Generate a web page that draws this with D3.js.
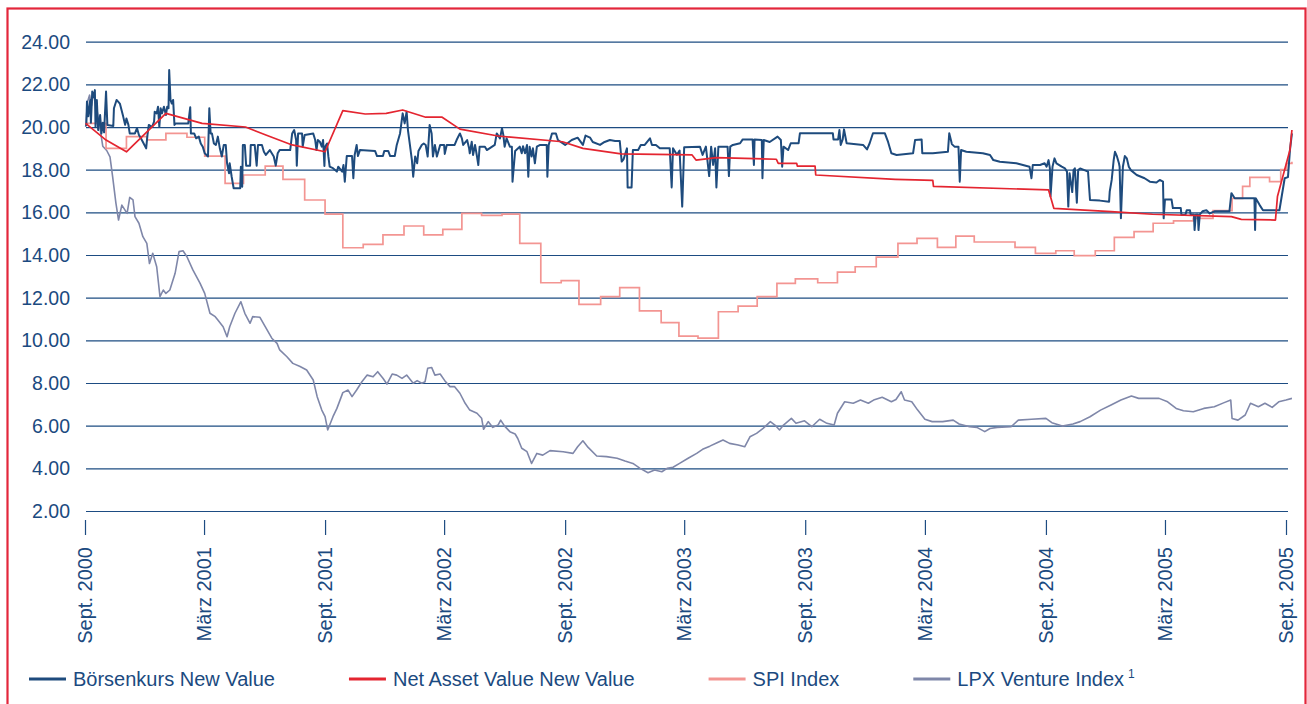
<!DOCTYPE html>
<html>
<head>
<meta charset="utf-8">
<script src="https://cdn.jsdelivr.net/npm/d3@7"></script>
<style>
  body { margin: 0; background: #fff; }
  svg { display: block; font-family: "Liberation Sans", Arial, Helvetica, sans-serif; }
  .axis text { fill: #1b4a80; }
  .axis line { stroke: #1d4c82; stroke-width: 1.2; }
  .legend text { fill: #1b4a80; font-size: 20px; }
</style>
</head>
<body>
<svg width="1307" height="704"></svg>
<script>
// values

const yTicks = [2, 4, 6, 8, 10, 12, 14, 16, 18, 20, 22, 24];

const tickDates = ["2000-09-01", "2001-03-01", "2001-09-01", "2002-03-01", "2002-09-01", "2003-03-01",
  "2003-09-01", "2004-03-01", "2004-09-01", "2005-03-01", "2005-09-01"];
const tickLabels = ["Sept. 2000", "März 2001", "Sept. 2001", "März 2002", "Sept. 2002", "März 2003",
  "Sept. 2003", "März 2004", "Sept. 2004", "März 2005", "Sept. 2005"];

const seriesNames = ["Börsenkurs New Value", "Net Asset Value New Value", "SPI Index", "LPX Venture Index"];
const seriesColors = ["#1e4b7d", "#e42530", "#f39592", "#7f87a9"];

const boersenkurs = [
["2000-09-03",20.05],["2000-09-04",21.2],["2000-09-06",20.5],["2000-09-09",21.27],["2000-09-10",20.2],["2000-09-12",21.66],
["2000-09-14",21.4],["2000-09-16",21.73],["2000-09-17",20.0],["2000-09-19",21.27],["2000-09-21",19.86],["2000-09-24",20.56],
["2000-09-26",19.7],["2000-09-28",20.2],["2000-09-30",19.75],["2000-10-03",21.66],["2000-10-05",20.1],["2000-10-14",20.05],
["2000-10-15",20.88],["2000-10-19",21.27],["2000-10-24",21.1],["2000-10-29",20.5],["2000-11-01",20.1],["2000-11-03",20.4],
["2000-11-06",20.1],["2000-11-08",19.7],["2000-11-16",19.7],["2000-11-19",19.95],["2000-11-22",19.63],["2000-11-25",19.47],
["2000-11-28",19.3],["2000-12-03",19.0],["2000-12-05",19.63],["2000-12-07",20.1],["2000-12-12",20.0],["2000-12-15",20.25],
["2000-12-16",20.72],["2000-12-19",20.64],["2000-12-21",20.95],["2000-12-23",20.0],["2000-12-25",20.88],["2000-12-27",20.64],
["2000-12-30",20.95],["2001-01-02",20.56],["2001-01-04",20.95],["2001-01-06",20.88],["2001-01-07",22.67],["2001-01-09",21.27],
["2001-01-11",21.1],["2001-01-13",21.27],["2001-01-15",20.1],["2001-01-17",20.17],["2001-02-05",20.17],["2001-02-08",20.93],
["2001-02-09",19.7],["2001-02-14",19.7],["2001-02-17",19.47],["2001-02-21",19.55],["2001-02-24",19.23],["2001-02-27",19.08],
["2001-03-02",18.77],["2001-03-07",18.62],["2001-03-09",20.88],["2001-03-11",19.7],["2001-03-13",19.7],["2001-03-16",19.23],
["2001-03-19",19.16],["2001-03-22",19.55],["2001-03-25",19.0],["2001-03-28",18.62],["2001-03-31",19.16],["2001-04-03",19.16],
["2001-04-05",18.3],["2001-04-08",17.83],["2001-04-09",18.3],["2001-04-12",17.67],["2001-04-15",17.13],["2001-04-25",17.13],
["2001-04-26",18.14],["2001-04-28",17.2],["2001-04-29",19.16],["2001-05-02",19.16],["2001-05-04",18.19],["2001-05-10",18.19],
["2001-05-11",19.16],["2001-05-17",19.16],["2001-05-20",18.19],["2001-05-22",19.16],["2001-05-28",19.16],["2001-05-31",18.84],
["2001-06-03",18.69],["2001-06-09",18.92],["2001-06-15",18.62],["2001-06-18",18.19],["2001-06-21",18.77],["2001-06-24",18.92],
["2001-07-10",18.92],["2001-07-13",19.7],["2001-07-16",19.86],["2001-07-19",19.39],["2001-07-20",18.19],["2001-07-22",19.7],
["2001-07-28",19.7],["2001-07-29",19.08],["2001-08-01",19.63],["2001-08-14",19.7],["2001-08-17",19.39],["2001-08-19",18.92],
["2001-08-21",19.39],["2001-08-24",19.31],["2001-08-27",19.08],["2001-08-29",19.39],["2001-08-31",18.17],["2001-09-01",19.08],
["2001-09-04",19.23],["2001-09-06",18.62],["2001-09-08",18.14],["2001-09-13",18.07],["2001-09-19",17.91],["2001-09-21",18.14],
["2001-09-27",17.91],["2001-09-29",18.22],["2001-10-01",17.44],["2001-10-04",18.64],["2001-10-12",18.64],["2001-10-14",17.6],
["2001-10-16",18.69],["2001-10-19",19.16],["2001-10-21",18.64],["2001-10-24",18.92],["2001-11-16",18.88],["2001-11-19",18.64],
["2001-11-28",18.64],["2001-11-30",18.88],["2001-12-06",18.88],["2001-12-09",18.64],["2001-12-16",18.64],["2001-12-19",19.16],
["2001-12-24",19.7],["2001-12-26",20.17],["2001-12-28",20.64],["2001-12-31",20.17],["2002-01-03",20.72],["2002-01-05",19.86],
["2002-01-08",19.16],["2002-01-11",18.45],["2002-01-13",17.67],["2002-01-16",18.62],["2002-01-19",18.3],["2002-01-21",18.88],
["2002-01-26",19.16],["2002-01-29",19.23],["2002-02-01",19.16],["2002-02-04",18.62],["2002-02-07",20.1],["2002-02-10",19.7],
["2002-02-12",18.62],["2002-02-15",19.16],["2002-02-18",18.62],["2002-02-23",19.16],["2002-03-01",19.16],["2002-03-02",18.74],
["2002-03-05",19.16],["2002-03-17",19.16],["2002-03-20",19.39],["2002-03-25",19.7],["2002-03-28",19.47],["2002-03-30",19.16],
["2002-04-05",19.39],["2002-04-08",19.0],["2002-04-09",18.77],["2002-04-12",19.31],["2002-04-14",18.69],["2002-04-17",19.16],
["2002-04-20",18.62],["2002-04-22",18.22],["2002-04-24",19.08],["2002-05-02",19.08],["2002-05-05",18.92],["2002-05-17",19.16],
["2002-05-20",19.7],["2002-05-25",19.47],["2002-05-28",19.94],["2002-05-30",19.63],["2002-06-01",19.08],["2002-06-04",19.47],
["2002-06-09",19.08],["2002-06-12",19.08],["2002-06-13",17.44],["2002-06-17",18.88],["2002-06-24",19.08],["2002-06-27",18.77],
["2002-06-29",19.1],["2002-07-02",18.77],["2002-07-05",19.16],["2002-07-07",17.67],["2002-07-09",19.08],["2002-07-12",18.62],
["2002-07-14",19.0],["2002-07-17",18.3],["2002-07-20",19.08],["2002-07-25",19.16],["2002-08-04",19.16],["2002-08-05",17.67],
["2002-08-07",19.16],["2002-08-12",19.7],["2002-08-18",19.7],["2002-08-21",19.39],["2002-09-01",19.16],["2002-09-11",19.39],
["2002-09-20",19.5],["2002-09-28",19.16],["2002-10-02",19.6],["2002-10-09",19.5],["2002-10-13",19.3],["2002-10-24",19.16],
["2002-10-31",19.3],["2002-11-08",19.39],["2002-11-16",19.35],["2002-11-23",19.35],["2002-11-26",18.38],["2002-11-29",18.5],
["2002-12-04",19.0],["2002-12-05",17.17],["2002-12-11",17.17],["2002-12-13",18.92],["2002-12-21",18.92],["2002-12-25",19.16],
["2002-12-31",19.16],["2003-01-08",19.47],["2003-01-11",19.16],["2003-01-17",19.16],["2003-01-23",19.0],["2003-02-07",19.0],
["2003-02-10",17.17],["2003-02-12",19.0],["2003-02-18",18.7],["2003-02-22",18.9],["2003-02-26",16.27],["2003-03-01",19.05],
["2003-03-25",19.08],["2003-03-29",18.69],["2003-04-03",19.08],["2003-04-08",17.7],["2003-04-11",19.08],["2003-04-14",18.22],
["2003-04-17",19.0],["2003-04-19",17.17],["2003-04-22",19.08],["2003-05-06",19.08],["2003-05-08",17.7],["2003-05-10",19.08],
["2003-05-14",19.16],["2003-05-25",19.24],["2003-05-29",19.42],["2003-06-13",19.42],["2003-06-15",18.22],["2003-06-16",19.42],
["2003-06-27",19.39],["2003-06-28",17.6],["2003-06-30",19.39],["2003-07-09",19.3],["2003-07-21",19.55],["2003-07-26",19.39],
["2003-07-28",18.14],["2003-07-30",19.08],["2003-08-06",18.92],["2003-08-10",19.24],["2003-08-22",19.24],["2003-08-24",19.71],
["2003-10-13",19.71],["2003-10-14",19.42],["2003-10-21",19.42],["2003-10-23",19.86],["2003-10-25",19.16],["2003-10-28",19.42],
["2003-10-30",19.89],["2003-11-03",19.24],["2003-11-28",19.16],["2003-12-04",18.95],["2003-12-08",19.24],["2003-12-13",19.71],
["2003-12-31",19.71],["2004-01-05",19.3],["2004-01-10",18.77],["2004-01-18",18.69],["2004-02-12",18.77],["2004-02-15",19.39],
["2004-02-25",19.42],["2004-02-26",18.77],["2004-03-13",18.77],["2004-04-05",18.84],["2004-04-07",19.71],["2004-04-11",19.2],
["2004-04-15",19.08],["2004-04-21",19.08],["2004-04-23",17.44],["2004-04-25",18.92],["2004-05-03",18.84],["2004-05-28",18.77],
["2004-06-08",18.69],["2004-06-13",18.45],["2004-06-23",18.37],["2004-07-18",18.3],["2004-08-07",18.14],["2004-08-10",17.6],
["2004-08-12",18.22],["2004-08-23",18.22],["2004-08-30",18.3],["2004-09-02",18.14],["2004-09-05",18.45],["2004-09-07",18.06],
["2004-09-08",16.75],["2004-09-11",18.14],["2004-09-14",18.53],["2004-09-17",18.3],["2004-09-25",18.14],["2004-09-30",18.06],
["2004-10-03",17.91],["2004-10-05",16.27],["2004-10-07",17.83],["2004-10-11",16.95],["2004-10-13",17.98],["2004-10-15",18.06],
["2004-10-18",16.45],["2004-10-20",17.98],["2004-10-23",18.06],["2004-11-04",17.91],["2004-11-07",16.58],["2004-11-22",16.55],
["2004-12-06",16.5],["2004-12-07",16.97],["2004-12-10",17.52],["2004-12-13",18.45],["2004-12-15",18.84],["2004-12-18",18.62],
["2004-12-21",18.3],["2004-12-22",18.14],["2004-12-24",15.72],["2004-12-27",18.14],["2004-12-30",18.64],["2005-01-02",18.53],
["2005-01-05",18.14],["2005-01-08",17.98],["2005-01-17",17.75],["2005-01-29",17.6],["2005-02-06",17.44],["2005-02-16",17.4],
["2005-02-21",17.52],["2005-02-26",17.44],["2005-02-27",15.72],["2005-03-01",16.6],["2005-03-11",16.6],["2005-03-13",16.2],
["2005-03-25",16.2],["2005-03-26",15.88],["2005-04-01",15.88],["2005-04-03",16.1],["2005-04-08",16.1],["2005-04-09",15.9],
["2005-04-14",15.9],["2005-04-15",15.17],["2005-04-17",15.9],["2005-04-20",15.9],["2005-04-21",15.17],["2005-04-23",15.9],
["2005-04-27",16.05],["2005-05-03",16.1],["2005-05-08",15.95],["2005-05-16",16.05],["2005-06-07",16.05],["2005-06-10",16.9],
["2005-06-15",16.66],["2005-07-15",16.66],["2005-07-16",15.17],["2005-07-17",16.66],["2005-07-23",16.34],["2005-07-28",16.1],
["2005-08-22",16.1],["2005-08-25",16.66],["2005-08-30",17.6],["2005-09-04",17.65],["2005-09-07",18.92],["2005-09-10",19.7]
];

const netAssetValue = [
["2000-09-02",20.17],["2000-10-03",19.39],["2000-11-03",18.84],["2001-01-02",20.64],["2001-02-26",20.17],["2001-05-03",20.0],
["2001-06-03",19.63],["2001-07-13",19.16],["2001-09-01",18.84],["2001-09-28",20.77],["2001-11-01",20.61],["2001-12-03",20.64],
["2001-12-28",20.8],["2002-02-01",20.46],["2002-02-26",20.46],["2002-03-25",19.9],["2002-05-22",19.58],["2002-08-28",19.31],
["2002-09-28",19.0],["2002-11-25",18.74],["2003-03-13",18.69],["2003-03-19",18.45],["2003-04-19",18.57],["2003-07-19",18.49],
["2003-07-22",18.3],["2003-08-19",18.3],["2003-08-20",18.17],["2003-09-16",18.17],["2003-09-17",17.75],["2004-01-16",17.55],
["2004-02-15",17.52],["2004-03-13",17.5],["2004-03-14",17.22],["2004-09-05",17.05],["2004-09-13",16.19],["2004-12-09",16.03],
["2005-02-10",15.91],["2005-06-10",15.8],["2005-06-25",15.67],["2005-08-16",15.64],["2005-08-19",16.74],["2005-09-07",18.92],
["2005-09-10",19.86]
];

const spiIndex = [
["2000-09-01",20.17],["2000-10-03",19.0],["2000-11-03",19.55],["2000-12-04",19.4],["2001-01-02",19.7],["2001-02-03",19.52],
["2001-03-02",18.64],["2001-04-02",17.36],["2001-04-30",17.75],["2001-06-02",18.17],["2001-06-29",17.55],["2001-08-01",16.58],
["2001-09-01",15.92],["2001-09-28",14.34],["2001-10-29",14.5],["2001-11-28",14.94],["2001-12-30",15.36],["2002-01-29",14.94],
["2002-02-27",15.2],["2002-03-28",15.95],["2002-04-27",15.86],["2002-05-28",15.92],["2002-06-24",14.55],["2002-07-26",12.7],
["2002-08-26",12.8],["2002-09-22",11.69],["2002-10-25",12.05],["2002-11-23",12.47],["2002-12-23",11.38],["2003-01-25",10.83],
["2003-02-21",10.2],["2003-03-22",10.1],["2003-04-22",11.34],["2003-05-22",11.6],["2003-06-20",12.05],["2003-07-20",12.67],
["2003-08-17",12.88],["2003-09-20",12.7],["2003-10-20",13.2],["2003-11-16",13.45],["2003-12-18",13.9],["2004-01-20",14.55],
["2004-02-18",14.78],["2004-03-20",14.36],["2004-04-17",14.89],["2004-05-15",14.61],["2004-07-16",14.36],["2004-08-16",14.08],
["2004-09-16",14.2],["2004-10-14",13.97],["2004-11-15",14.2],["2004-12-14",14.83],["2005-01-13",15.1],["2005-02-11",15.49],
["2005-03-14",15.6],["2005-04-13",15.72],["2005-05-13",16.08],["2005-06-11",16.66],["2005-06-27",17.22],["2005-07-08",17.64],
["2005-08-07",17.44],["2005-08-24",18.0],["2005-09-02",18.3],["2005-09-10",18.37]
];

const lpxVenture = [
["2000-09-02",20.0],["2000-09-05",21.2],["2000-09-08",21.5],["2000-09-11",21.0],["2000-09-14",21.6],["2000-09-19",20.8],
["2000-09-23",20.1],["2000-09-28",19.1],["2000-10-04",18.9],["2000-10-09",18.6],["2000-10-13",17.67],["2000-10-18",16.43],
["2000-10-22",15.64],["2000-10-27",16.34],["2000-11-04",15.95],["2000-11-08",16.7],["2000-11-13",16.58],["2000-11-16",15.8],
["2000-11-22",15.49],["2000-11-28",14.86],["2000-12-04",14.55],["2000-12-08",13.6],["2000-12-13",14.08],["2000-12-19",13.45],
["2000-12-24",12.05],["2000-12-29",12.36],["2001-01-02",12.2],["2001-01-08",12.36],["2001-01-16",13.14],["2001-01-22",14.16],
["2001-01-28",14.2],["2001-02-03",13.92],["2001-02-12",13.3],["2001-02-23",12.67],["2001-03-02",12.2],["2001-03-10",11.27],
["2001-03-18",11.11],["2001-03-22",10.95],["2001-03-30",10.64],["2001-04-05",10.17],["2001-04-09",10.64],["2001-04-17",11.27],
["2001-04-26",11.81],["2001-05-02",11.27],["2001-05-10",10.8],["2001-05-14",11.11],["2001-05-25",11.08],["2001-06-02",10.64],
["2001-06-12",10.1],["2001-06-20",9.86],["2001-06-24",9.55],["2001-07-05",9.23],["2001-07-14",8.92],["2001-07-25",8.77],
["2001-08-04",8.61],["2001-08-14",8.14],["2001-08-20",7.36],["2001-08-27",6.73],["2001-09-01",6.42],["2001-09-05",5.8],
["2001-09-13",6.42],["2001-09-19",6.81],["2001-09-28",7.55],["2001-10-06",7.67],["2001-10-12",7.36],["2001-10-19",7.67],
["2001-10-27",8.06],["2001-11-04",8.37],["2001-11-13",8.29],["2001-11-20",8.53],["2001-11-28",8.22],["2001-12-04",7.95],
["2001-12-12",8.42],["2001-12-19",8.37],["2001-12-27",8.22],["2002-01-03",8.37],["2002-01-13",7.99],["2002-01-19",8.11],
["2002-01-26",7.99],["2002-01-31",8.06],["2002-02-04",8.69],["2002-02-10",8.73],["2002-02-15",8.37],["2002-02-23",8.42],
["2002-03-02",8.11],["2002-03-10",7.83],["2002-03-17",7.83],["2002-03-25",7.52],["2002-04-02",7.05],["2002-04-09",6.73],
["2002-04-20",6.58],["2002-04-27",6.35],["2002-04-30",5.83],["2002-05-07",6.19],["2002-05-14",5.92],["2002-05-22",6.03],
["2002-05-26",6.26],["2002-06-01",5.98],["2002-06-09",5.72],["2002-06-17",5.61],["2002-06-21",5.4],["2002-06-27",4.94],
["2002-07-05",4.78],["2002-07-12",4.23],["2002-07-20",4.7],["2002-07-29",4.62],["2002-08-09",4.83],["2002-08-29",4.78],
["2002-09-13",4.7],["2002-09-20",5.01],["2002-09-28",5.29],["2002-10-06",4.98],["2002-10-19",4.58],["2002-11-03",4.55],
["2002-11-19",4.47],["2002-12-01",4.34],["2002-12-13",4.23],["2002-12-24",4.0],["2003-01-05",3.79],["2003-01-15",3.92],
["2003-01-26",3.84],["2003-02-03",4.0],["2003-02-12",4.05],["2003-02-22",4.23],["2003-03-07",4.47],["2003-03-20",4.7],
["2003-03-29",4.89],["2003-04-09",5.04],["2003-04-20",5.2],["2003-04-29",5.33],["2003-05-09",5.17],["2003-05-22",5.09],
["2003-06-01",5.01],["2003-06-09",5.48],["2003-06-19",5.64],["2003-06-29",5.87],["2003-07-10",6.19],["2003-07-17",6.03],
["2003-07-24",5.8],["2003-07-30",6.03],["2003-08-11",6.34],["2003-08-18",6.11],["2003-08-31",6.23],["2003-09-11",5.95],
["2003-09-23",6.3],["2003-10-04",6.11],["2003-10-15",6.03],["2003-10-20",6.58],["2003-10-31",7.12],["2003-11-13",7.05],
["2003-11-24",7.2],["2003-12-06",7.05],["2003-12-14",7.2],["2003-12-27",7.33],["2004-01-10",7.12],["2004-01-17",7.23],
["2004-01-25",7.59],["2004-01-30",7.2],["2004-02-10",7.12],["2004-02-19",6.73],["2004-03-01",6.3],["2004-03-12",6.19],
["2004-03-28",6.19],["2004-04-13",6.26],["2004-04-22",6.08],["2004-05-08",5.95],["2004-05-19",5.92],["2004-05-31",5.72],
["2004-06-08",5.87],["2004-06-19",5.92],["2004-07-10",5.95],["2004-07-21",6.26],["2004-08-10",6.3],["2004-09-01",6.34],
["2004-09-10",6.14],["2004-09-26",5.98],["2004-10-12",6.08],["2004-10-23",6.19],["2004-11-07",6.42],["2004-11-23",6.73],
["2004-12-09",6.97],["2004-12-24",7.2],["2005-01-09",7.39],["2005-01-20",7.28],["2005-02-05",7.28],["2005-02-20",7.28],
["2005-03-05",7.12],["2005-03-18",6.81],["2005-03-29",6.7],["2005-04-13",6.65],["2005-04-29",6.81],["2005-05-15",6.89],
["2005-05-30",7.08],["2005-06-09",7.2],["2005-06-11",6.34],["2005-06-20",6.26],["2005-07-01",6.5],["2005-07-09",7.05],
["2005-07-21",6.89],["2005-07-31",7.05],["2005-08-11",6.86],["2005-08-21",7.12],["2005-09-01",7.2],["2005-09-10",7.28]
];

const parse = d3.timeParse("%Y-%m-%d");
const svg = d3.select("svg");

// frame
svg.append("rect")
  .attr("x", 7.5).attr("y", 8.5)
  .attr("width", 1298).attr("height", 740)
  .attr("fill", "none")
  .attr("stroke", "#e3263b")
  .attr("stroke-width", 2.2);

const left = 86, right = 1288;
const x = d3.scaleTime()
  .domain([parse("2000-09-01"), parse("2005-09-01")])
  .range([85, 1286]);
const y = d3.scaleLinear()
  .domain([2, 24])
  .range([511, 41.7]);

// y grid + labels
const yAxis = svg.append("g")
  .attr("class", "axis")
  .attr("transform", `translate(${left},0)`)
  .call(d3.axisLeft(y)
    .tickValues(yTicks)
    .tickSize(-(right - left))
    .tickPadding(16)
    .tickFormat(d3.format(".2f")));
yAxis.select(".domain").remove();
yAxis.selectAll("text")
  .style("font-size", "19.5px")
  .attr("dy", "0.33em");

// x ticks + rotated labels
const xAxis = svg.append("g")
  .attr("class", "axis")
  .attr("transform", "translate(0,520)")
  .call(d3.axisBottom(x)
    .tickValues(tickDates.map(parse))
    .tickSize(15)
    .tickFormat((d, i) => tickLabels[i]));
xAxis.select(".domain").remove();
xAxis.selectAll("text")
  .style("font-size", "20px")
  .attr("transform", "rotate(-90)")
  .attr("text-anchor", "end")
  .attr("x", -27)
  .attr("y", 6.5)
  .attr("dy", 0);

const line = d3.line()
  .x(d => x(parse(d[0])))
  .y(d => y(d[1]));

svg.append("path")
  .datum(lpxVenture)
  .attr("fill", "none")
  .attr("stroke", seriesColors[3])
  .attr("stroke-width", 1.6)
  .attr("stroke-linejoin", "round")
  .attr("d", line);

svg.append("path")
  .datum(spiIndex)
  .attr("fill", "none")
  .attr("stroke", seriesColors[2])
  .attr("stroke-width", 1.7)
  .attr("d", line.curve(d3.curveStepAfter));
line.curve(d3.curveLinear);

svg.append("path")
  .datum(boersenkurs)
  .attr("fill", "none")
  .attr("stroke", seriesColors[0])
  .attr("stroke-width", 2)
  .attr("stroke-linejoin", "round")
  .attr("d", line);

svg.append("path")
  .datum(netAssetValue)
  .attr("fill", "none")
  .attr("stroke", seriesColors[1])
  .attr("stroke-width", 1.7)
  .attr("stroke-linejoin", "round")
  .attr("d", line);

// legend, laid out left to right
const legend = svg.append("g").attr("class", "legend");
let lx = 29;
seriesNames.forEach((name, i) => {
  legend.append("line")
    .attr("x1", lx).attr("x2", lx + 37)
    .attr("y1", 679).attr("y2", 679)
    .attr("stroke", seriesColors[i])
    .attr("stroke-width", 3);
  const t = legend.append("text")
    .attr("x", lx + 44)
    .attr("y", 686)
    .text(name);
  if (i === 3) {
    t.append("tspan")
      .attr("dx", 4).attr("dy", -8)
      .style("font-size", "12px")
      .text("1");
  }
  lx = lx + 44 + t.node().getComputedTextLength() + 74;
});
</script>
</body>
</html>
